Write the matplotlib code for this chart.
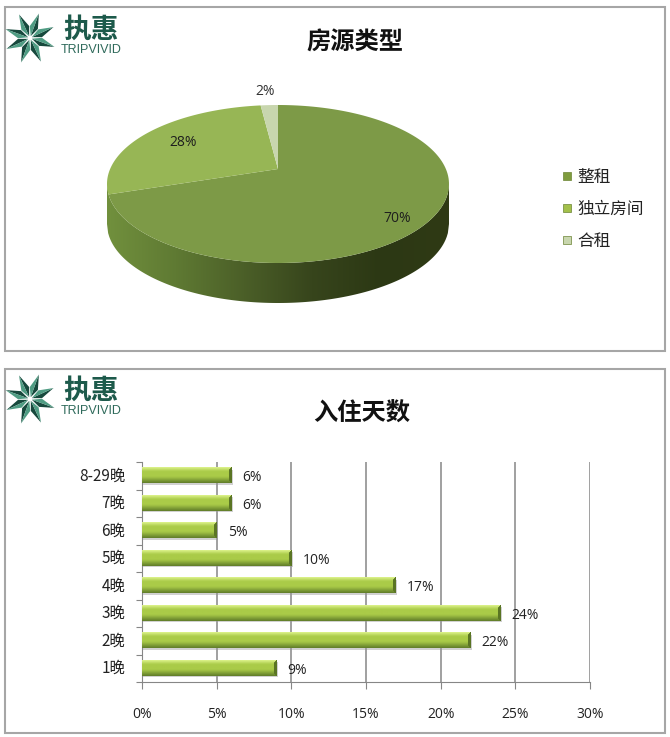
import numpy as np
import matplotlib
matplotlib.use("Agg")
import matplotlib.pyplot as plt
from matplotlib.patches import Polygon, Rectangle
from matplotlib.colors import LinearSegmentedColormap

plt.rcParams['font.family'] = ['Noto Sans CJK SC', 'DejaVu Sans']

pie_title = "房源类型"
pie_labels = ["整租", "独立房间", "合租"]
pie_values = [70, 28, 2]
pie_colors = ["#7d9a47", "#97b655", "#c8d6ae"]

bar_title = "入住天数"
bar_labels = ["1晚", "2晚", "3晚", "4晚", "5晚", "6晚", "7晚", "8-29晚"]
bar_values = [9, 22, 24, 17, 10, 5, 6, 6]
x_ticks = [0, 5, 10, 15, 20, 25, 30]

W, H = 670, 737
fig = plt.figure(figsize=(W / 100, H / 100), dpi=100, facecolor="white")

bg = fig.add_axes([0, 0, 1, 1], zorder=0)
bg.set_xlim(0, W); bg.set_ylim(H, 0); bg.axis("off")
for (x0, y0, x1, y1) in [(4.7, 7, 664.5, 351), (4.7, 368.5, 664.5, 733)]:
    bg.add_patch(Rectangle((x0, y0), x1 - x0, y1 - y0, fc="white", ec="#a6a6a6", lw=1.5))


def logo(dy):
    cx, cy = 30, 38 + dy
    for i in range(8):
        a = np.deg2rad(i * 45 + 20)
        r = 26
        tip = (cx + r * np.sin(a), cy - r * np.cos(a))
        for sgn, col in ((1, "#17493d"), (-1, "#4f9c83")):
            b = a + sgn * np.deg2rad(21)
            side = (cx + 12 * np.sin(b), cy - 12 * np.cos(b))
            c2 = (cx + 2 * np.sin(a), cy - 2 * np.cos(a))
            bg.add_patch(Polygon([c2, tip, side], fc=col, ec="none"))
    bg.text(91, 30 + dy, "执惠", fontsize=20, fontweight="bold", color="#1d5a4b",
            ha="center", va="center")
    bg.text(91.5, 50 + dy, "TRIPVIVID", fontsize=9, color="#2f6a5b",
            ha="center", va="center", family=["Liberation Sans"])


logo(0)
logo(361)

# ---------- pie -----------
cx, cy, a, b = 278, 184, 171, 79
apex = np.array([278.0, 169.0])
depth = 40


def rim_point(theta):
    """Ellipse point on the ray leaving the apex in direction theta (clockwise from top)."""
    d = np.array([a * np.sin(theta), -b * np.cos(theta)])
    ox, oy = apex[0] - cx, apex[1] - cy
    A = (d[0] / a) ** 2 + (d[1] / b) ** 2
    B = 2 * (ox * d[0] / a ** 2 + oy * d[1] / b ** 2)
    C = (ox / a) ** 2 + (oy / b) ** 2 - 1
    t = (-B + np.sqrt(B * B - 4 * A * C)) / (2 * A)
    return apex + t * d


xs = np.linspace(cx - a, cx + a, 300)
ys_top = cy + b * np.sqrt(np.clip(1 - ((xs - cx) / a) ** 2, 0, 1))
wall = np.r_[np.c_[xs, ys_top], np.c_[xs[::-1], ys_top[::-1] + depth]]
wall_patch = Polygon(wall, fc="none", ec="none")
bg.add_patch(wall_patch)
cm = LinearSegmentedColormap.from_list("w", ["#71903d", "#5f7a33", "#4b5f28", "#37451c", "#2c3814", "#2f3a15"])
im = bg.imshow(np.linspace(0, 1, 256)[None, :], extent=(cx - a, cx + a, cy + b + depth, cy), cmap=cm,
               aspect="auto", zorder=1)
im.set_clip_path(wall_patch)
bg.set_xlim(0, W); bg.set_ylim(H, 0)

frac = np.cumsum([0] + pie_values) / sum(pie_values)
for i, col in enumerate(pie_colors):
    th = 2 * np.pi * np.linspace(frac[i], frac[i + 1], 160)
    pts = np.array([rim_point(t) for t in th])
    bg.add_patch(Polygon(np.r_[[apex], pts], fc=col, ec="none", zorder=2))

for txt, x, y, c in [("70%", 397, 218, "#1e1e1e"), ("28%", 183, 142, "#1e1e1e"), ("2%", 265, 91, "#333333")]:
    bg.text(x, y, txt, fontsize=10, ha="center", va="center", color=c, zorder=3, family=["Open Sans"])

bg.text(355, 43, pie_title, fontsize=17.5, fontweight="bold", ha="center", va="center", color="#111111")
for lab, col, y in zip(pie_labels, ["#7f9c3e", "#a3c04a", "#c8d6ae"], [176, 208, 240]):
    bg.add_patch(Rectangle((563, y - 4), 8, 8, fc=col, ec="#6b8434", lw=0.5))
    bg.text(577, y + 1, lab, fontsize=12, ha="left", va="center", color="#222222")

bg.text(361.5, 414, bar_title, fontsize=17.5, fontweight="bold", ha="center", va="center", color="#111111")

# ---------- bars -----------
ax = fig.add_axes([142 / W, 1 - 682 / H, (590 - 142) / W, (682 - 462) / H], zorder=2)
ax.patch.set_alpha(0)
y = np.arange(len(bar_values))
bars = ax.barh(y, bar_values, height=0.55, color="#9bbb3f", zorder=3)
ax.set_xlim(0, 30)
ax.set_ylim(-0.5, len(bar_values) - 0.5)
ax.set_xticks(x_ticks)
ax.set_xticklabels([f"{v}%" for v in x_ticks], fontsize=10, family=["Open Sans"], color="#222222")
ax.set_yticks(np.arange(-0.5, len(bar_values)), labels=[""] * (len(bar_values) + 1))
for i, lab in enumerate(bar_labels):
    ax.annotate(lab, (0, i), xytext=(-17, 0), textcoords="offset pixels",
                ha="right", va="center", fontsize=11, color="#222222", annotation_clip=False)
ax.grid(axis="x", color="#868686", lw=1.1, zorder=1)
for s in ("top", "right"):
    ax.spines[s].set_visible(False)
for s in ("left", "bottom"):
    ax.spines[s].set_color("#868686")
ax.tick_params(axis="x", color="#868686", length=5, pad=13)
ax.tick_params(axis="y", color="#868686", length=4, pad=2)

top = np.array(matplotlib.colors.to_rgb("#d8ef85"))
mid = np.array(matplotlib.colors.to_rgb("#aacb48"))
low = np.array(matplotlib.colors.to_rgb("#64812b"))
cap = np.array(matplotlib.colors.to_rgb("#5a7524"))
for bar, v, yi in zip(bars, bar_values, y):
    bb = bar.get_bbox()
    pw = max(int(round(bb.width * 448 / 30)), 4)
    ph = 15
    img = np.zeros((ph, pw, 3))
    for r in range(ph):
        f = r / (ph - 1)
        img[r, :] = top + (mid - top) * f / 0.25 if f < 0.25 else (mid if f < 0.6 else mid + (low - mid) * (f - 0.6) / 0.4)
        for c in range(pw - 3, pw):
            if pw - c <= min(r + 1, ph - r):
                img[r, c] = cap
    ax.imshow(img, extent=(bb.x0, bb.x1, bb.y0, bb.y1), aspect="auto", zorder=4, interpolation="bilinear")
    ax.add_patch(Rectangle((bb.x0 + 0.05, bb.y0 - 0.05), bb.width + 0.05, bb.height, fc="#999999", alpha=0.45,
                           ec="none", zorder=2))
    ax.annotate(f"{v}%", (v, yi), xytext=(11, -2), textcoords="offset pixels", ha="left", va="center",
                fontsize=10, color="#222222", family=["Open Sans"], zorder=5)
ax.set_xlim(0, 30)
ax.set_ylim(-0.5, len(bar_values) - 0.5)

fig.savefig("out.png", dpi=100, facecolor="white")
